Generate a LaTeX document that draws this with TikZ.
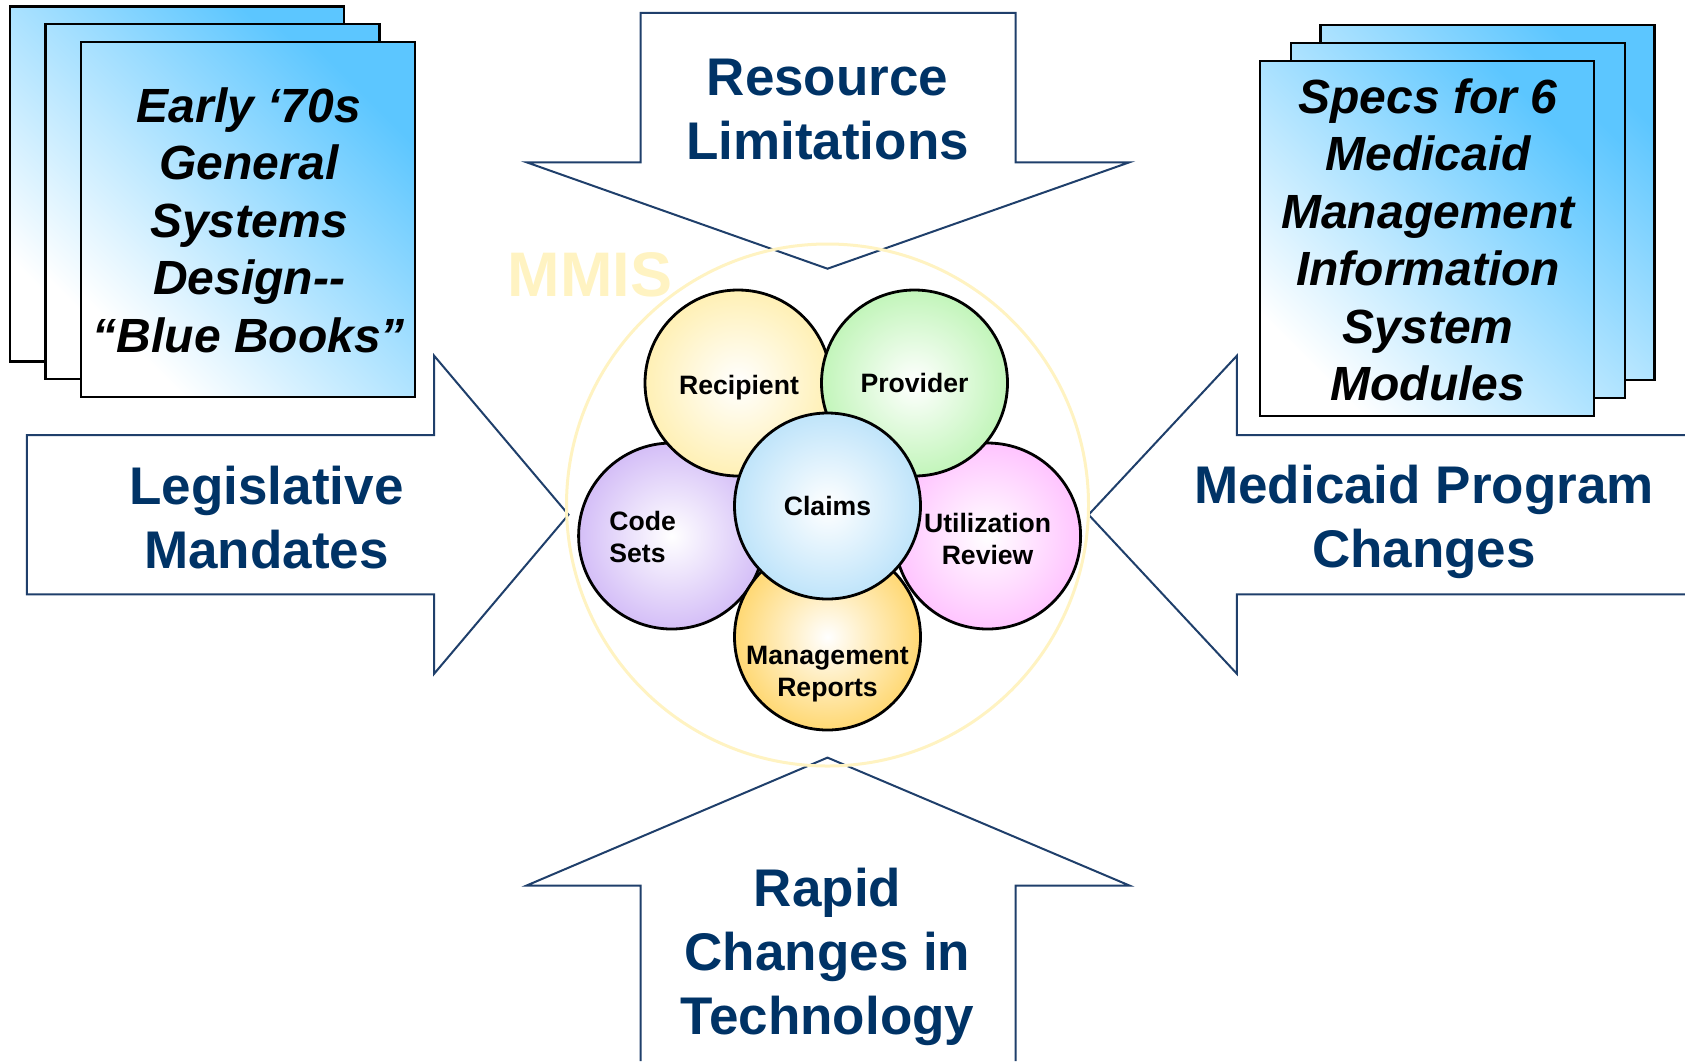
\documentclass[tikz,border=0pt]{standalone}
\usepackage{fontspec}
\setmainfont{Liberation Sans}
\definecolor{navy}{HTML}{003366}
\definecolor{arrowline}{HTML}{1F3F6B}
\definecolor{mmisyellow}{HTML}{FFF3C2}
\definecolor{pageblue}{HTML}{5CC6FF}
\definecolor{recipyellow}{HTML}{FFF0B5}
\definecolor{provgreen}{HTML}{C2F5BA}
\definecolor{claimsblue}{HTML}{BFE4FA}
\definecolor{codeviolet}{HTML}{D4BEF7}
\definecolor{utilpink}{HTML}{FFC4FF}
\definecolor{mgmtgold}{HTML}{FFD873}
\tikzset{
  bigarrow/.style={draw=arrowline,line width=1pt,fill=white,line join=miter},
  arrowtext/.style={text=navy,font=\fontsize{26.5}{32}\selectfont\bfseries,align=center,inner sep=0pt},
  page/.style={draw=black,line width=1.3pt,minimum width=167pt,minimum height=177.5pt,inner sep=0pt,
    top color=pageblue,bottom color=white,shading angle=-45},
  pagetext/.style={font=\fontsize{24}{28.75}\selectfont\bfseries\itshape,align=center,inner sep=0pt},
  petal/.style={shape=circle,draw,line width=1.4pt,minimum size=93pt,inner sep=0pt,
    inner color=white,outer color=#1,font=\fontsize{13.3}{16}\selectfont\bfseries,align=center},
  petaltext/.style={font=\fontsize{13.3}{16}\selectfont\bfseries,align=center,inner sep=0pt}
}
\begin{document}
\begin{tikzpicture}[x=0.5pt,y=-0.5pt]
\useasboundingbox (0,0) rectangle (1685,1061);
\draw[bigarrow] (640.5,12.9) -- (1015.5,12.9) -- (1015.5,162.3) -- (1129.4,162.3) -- (827.5,268.7) -- (526.6,162.3) -- (640.5,162.3) -- cycle;
\draw[bigarrow] (640.5,1061) -- (640.5,885.5) -- (526.6,885.5) -- (827.5,757.6) -- (1129.4,885.5) -- (1015.5,885.5) -- (1015.5,1061);
\draw[bigarrow] (26.9,435.2) -- (434.1,435.2) -- (434.1,355.7) -- (568.5,514.7) -- (434.1,673.8) -- (434.1,594.3) -- (26.9,594.3) -- cycle;
\draw[bigarrow] (1685,435.2) -- (1236.9,435.2) -- (1236.9,355.7) -- (1088.6,514.7) -- (1236.9,673.8) -- (1236.9,594.3) -- (1685,594.3);
\node(resource) at (827.5,110)[arrowtext]{Resource\\Limitations};
\node(legis) at (266.5,517.4)[arrowtext]{Legislative\\Mandates};
\node(program) at (1424,522)[arrowtext]{Medicaid Program\\Changes};
\node(rapid) at (827.5,956.5)[arrowtext]{Rapid\\Changes in\\Technology};

\node(mmisring) at (827.5,505)[shape=circle,draw=mmisyellow,line width=1.5pt,minimum size=261pt,inner sep=0pt]{};
\node(mmis) at (590,275)[text=mmisyellow,font=\fontsize{31.5}{36}\selectfont\bfseries,inner sep=0pt]{MMIS};

\node(codesets) at (671.6,536)[petal=codeviolet]{};
\node(utilrev) at (987.6,536)[petal=utilpink]{};
\node(mgmt) at (827.5,637)[petal=mgmtgold]{};
\node(recip) at (738,383)[petal=recipyellow]{};
\node(provider) at (914.5,383)[petal=provgreen]{Provider};
\node(claims) at (827.5,506)[petal=claimsblue]{Claims};
\node(reciptext) at (739,388)[petaltext]{Recipient};
\node(utiltext) at (987.6,539)[petaltext]{Utilization\\Review};
\node(codetext) at (609,537)[petaltext,anchor=west,align=left]{Code\\Sets};
\node(mgmttext) at (827.5,674)[petaltext]{Management\\Reports};

\node(lpage1) at (176.8,183.7)[page]{};
\node(lpage2) at (212.3,201.5)[page]{};
\node(lpage3) at (248,219.3)[page]{};
\node(ltext) at (249,220)[pagetext]{Early ‘70s\\General\\Systems\\Design-{}-\\“Blue Books”};
\node(rpage1) at (1487.5,202.5)[page]{};
\node(rpage2) at (1457.9,220.4)[page]{};
\node(rpage3) at (1427,238.3)[page]{};
\node(rtext) at (1428,239.6)[pagetext]{Specs for 6\\Medicaid\\Management\\Information\\System\\Modules};
\end{tikzpicture}
\end{document}
